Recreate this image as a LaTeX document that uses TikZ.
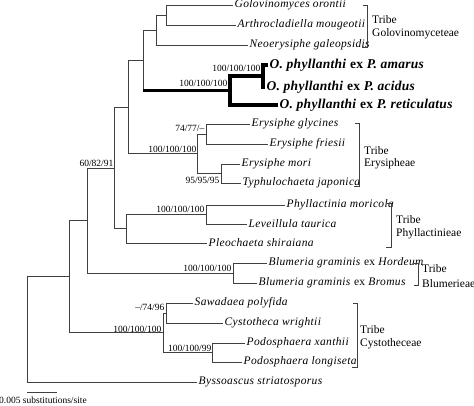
\documentclass[tikz,border=0pt]{standalone}
\usepackage{fontspec}
\setmainfont{Liberation Serif}
\usetikzlibrary{positioning}

\begin{document}
\begin{tikzpicture}[
    x=1pt, y=-1pt,
    branch/.style={draw=black!75, line width=0.9pt},
    thickbranch/.style={draw=black, line width=3.2pt},
    leaf/.style={anchor=west, inner sep=1.5pt, font=\fontsize{11.5}{13}\selectfont\itshape\addfontfeatures{LetterSpace=3}},
    oleaf/.style={anchor=west, inner sep=1.5pt, font=\fontsize{13.5}{15}\selectfont\bfseries\addfontfeatures{LetterSpace=2}},
    bs/.style={anchor=base east, inner sep=0.5pt, font=\fontsize{9.5}{11}\selectfont},
    tribe/.style={anchor=west, align=left, inner sep=0pt, font=\fontsize{11.5}{12.5}\selectfont},
    bracket/.style={draw=black!75, line width=0.8pt}
]
\useasboundingbox (0,0) rectangle (474,405);

% 1. Taxa (leaves)
\node[leaf] (golov) at (233,5) {Golovinomyces orontii};
\node[leaf] (arthro) at (236,25) {Arthrocladiella mougeotii};
\node[leaf] (neo) at (248,45) {Neoerysiphe galeopsidis};
\node[oleaf] (amarus) at (268,65) {\textit{O. phyllanthi} ex \textit{P. amarus}};
\node[oleaf] (acidus) at (265,87) {\textit{O. phyllanthi} ex \textit{P. acidus}};
\node[oleaf] (retic) at (278,105) {\textit{O. phyllanthi} ex \textit{P. reticulatus}};
\node[leaf] (glycines) at (250,124) {Erysiphe glycines};
\node[leaf] (friesii) at (268,144) {Erysiphe friesii};
\node[leaf] (mori) at (240,164) {Erysiphe mori};
\node[leaf] (typhulo) at (241,183) {Typhulochaeta japonica};
\node[leaf] (moricola) at (285,205) {Phyllactinia moricola};
\node[leaf] (leveil) at (247,224) {Leveillula taurica};
\node[leaf] (pleo) at (207,243) {Pleochaeta shiraiana};
\node[leaf] (hordeum) at (267,263) {Blumeria graminis \textup{ex} Hordeum};
\node[leaf] (bromus) at (257,283) {Blumeria graminis \textup{ex} Bromus};
\node[leaf] (sawadaea) at (193,303) {Sawadaea polyfida};
\node[leaf] (cysto) at (223,323) {Cystotheca wrightii};
\node[leaf] (xanthii) at (245,343) {Podosphaera xanthii};
\node[leaf] (longi) at (242,362) {Podosphaera longiseta};
\node[leaf] (bysso) at (197,382) {Byssoascus striatosporus};

% 2. Internal nodes
\coordinate (nA1) at (166,15);
\coordinate (nA2) at (156,30);
\coordinate (nOi) at (263,76);
\coordinate (nOo) at (230,90.5);
\coordinate (nA3) at (143,60);
\coordinate (nG) at (206,134);
\coordinate (nI) at (221,173.5);
\coordinate (nH) at (197,153.75);
\coordinate (nE) at (128,107);
\coordinate (nK) at (206,214.5);
\coordinate (nJ) at (126,228.75);
\coordinate (nC) at (114,168);
\coordinate (nL) at (233,273);
\coordinate (nD) at (87,220.5);
\coordinate (nN) at (166,313);
\coordinate (nO) at (212,352.5);
\coordinate (nM) at (163,332.75);
\coordinate (nF) at (69,276.6);
\coordinate (nRoot) at (27,329.3);

% 3. Branches
\draw[branch] (nA1) |- (golov.west);
\draw[branch] (nA1) |- (arthro.west);
\draw[branch] (nA2) |- (nA1);
\draw[branch] (nA2) |- (neo.west);
\draw[branch] (nA3) |- (nA2);
\draw[branch] (nA3) |- (nOo);
\draw[thickbranch] (nA3 |- nOo) -- (nOo);
\draw[thickbranch] (nOo) |- (nOi);
\draw[thickbranch] (nOo) |- (retic.west);
\draw[thickbranch] (nOi) |- (amarus.west);
\draw[thickbranch] (nOi) |- (acidus.west);

\draw[branch] (nG) |- (glycines.west);
\draw[branch] (nG) |- (friesii.west);
\draw[branch] (nI) |- (mori.west);
\draw[branch] (nI) |- (typhulo.west);
\draw[branch] (nH) |- (nG);
\draw[branch] (nH) |- (nI);
\draw[branch] (nE) |- (nA3);
\draw[branch] (nE) |- (nH);

\draw[branch] (nK) |- (moricola.west);
\draw[branch] (nK) |- (leveil.west);
\draw[branch] (nJ) |- (nK);
\draw[branch] (nJ) |- (pleo.west);
\draw[branch] (nC) |- (nE);
\draw[branch] (nC) |- (nJ);

\draw[branch] (nL) |- (hordeum.west);
\draw[branch] (nL) |- (bromus.west);
\draw[branch] (nD) |- (nC);
\draw[branch] (nD) |- (nL);

\draw[branch] (nN) |- (sawadaea.west);
\draw[branch] (nN) |- (cysto.west);
\draw[branch] (nO) |- (xanthii.west);
\draw[branch] (nO) |- (longi.west);
\draw[branch] (nM) |- (nN);
\draw[branch] (nM) |- (nO);
\draw[branch] (nF) |- (nD);
\draw[branch] (nF) |- (nM);
\draw[branch] (nRoot) |- (nF);
\draw[branch] (nRoot) |- (bysso.west);

% 4. Support values
\node[bs] (bsOi) at (261,71) {100/100/100};
\node[bs] (bsOo) at (228,86) {100/100/100};
\node[bs] (bsG) at (205,131.5) {74/77/--};
\node[bs] (bsH) at (197,152.5) {100/100/100};
\node[bs] (bsI) at (220,183.5) {95/95/95};
\node[bs] (bsK) at (205,212.5) {100/100/100};
\node[bs] (bsC) at (114,166.5) {60/82/91};
\node[bs] (bsL) at (232,271.5) {100/100/100};
\node[bs] (bsM) at (162,332.5) {100/100/100};
\node[bs] (bsN) at (165,310.5) {--/74/96};
\node[bs] (bsO) at (212,351.5) {100/100/99};

% 5. Tribes
\draw[bracket] (363,5) -- (367,5) -- (367,47) -- (362,47);
\node[tribe] (tGolov) at (372,27) {Tribe\\Golovinomyceteae};
\draw[bracket] (355,123) -- (359,123) -- (359,186) -- (354,186);
\node[tribe] (tEry) at (364,157.5) {Tribe\\Erysipheae};
\draw[bracket] (387,203) -- (391,203) -- (391,247) -- (386,247);
\node[tribe] (tPhyll) at (396,227) {Tribe\\Phyllactinieae};
\draw[bracket] (414,263) -- (418,263) -- (418,285) -- (414,285);
\node[tribe, font=\fontsize{11.5}{15}\selectfont] (tBlum) at (422,276) {Tribe\\Blumerieae};
\draw[bracket] (353,303) -- (357,303) -- (357,367) -- (352,367);
\node[tribe] (tCyst) at (360,337) {Tribe\\Cystotheceae};

% 6. Scale bar
\coordinate (sbL) at (27,392);
\coordinate (sbR) at (57,392);
\draw[branch] (sbL) -- (sbR);
\node[bs, anchor=west] (sbText) at (-1.5,400) {0.005 substitutions/site};

\end{tikzpicture}
\end{document}
